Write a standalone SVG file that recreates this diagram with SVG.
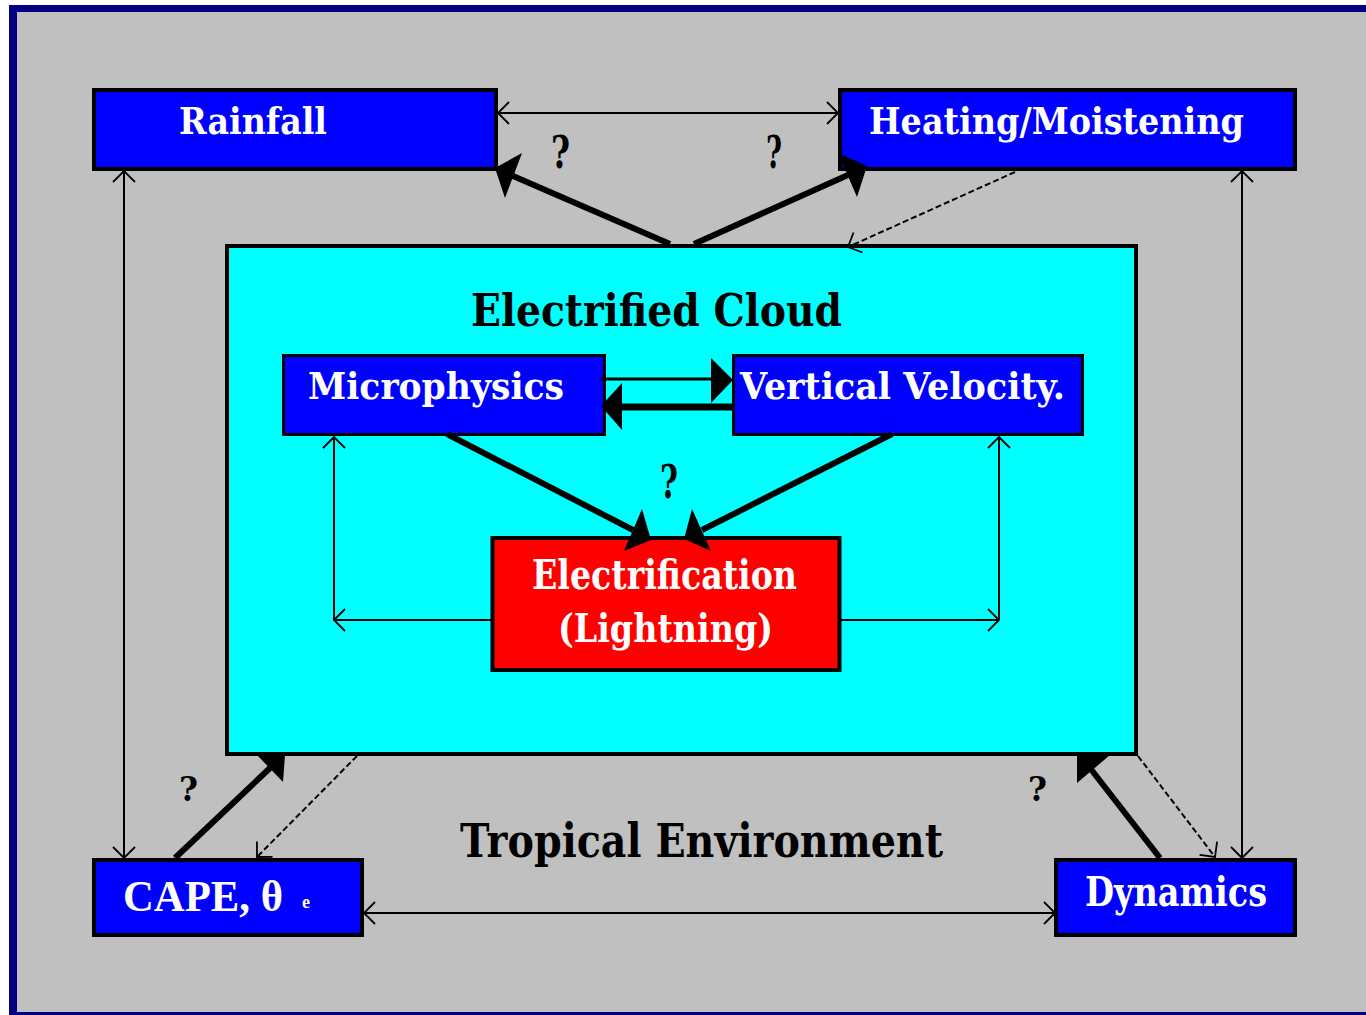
<svg xmlns="http://www.w3.org/2000/svg" width="1366" height="1015" viewBox="0 0 1366 1015">
<style>
.box{stroke:#000;stroke-width:4}
.blue{fill:#0000FF}
.wt{fill:#fff;font-family:"DejaVu Serif","Liberation Serif",serif;font-weight:bold}
.bt{fill:#000;font-family:"DejaVu Serif","Liberation Serif",serif;font-weight:bold}
.thin{stroke:#000;stroke-width:2;fill:none}
.dot{stroke:#000;stroke-width:2;fill:none;stroke-dasharray:6 3}
.thick{stroke:#000;stroke-width:6;fill:none}
.head{fill:#000}
</style>
<defs>
<marker id="v" markerUnits="userSpaceOnUse" viewBox="-14 -14 16 28" refX="0" refY="0" markerWidth="16" markerHeight="28" orient="auto-start-reverse" overflow="visible">
<path d="M-11,-11 L0,0 L-11,11" fill="none" stroke="#000" stroke-width="1.8"/>
</marker>
</defs>
<rect x="9" y="5" width="1357" height="1010" fill="#000080"/>
<rect x="17" y="12" width="1349" height="1000" fill="#C0C0C0"/>

<g id="cloud">
<rect class="box" x="227" y="246" width="909" height="508" fill="#00FFFF"/>
<text class="bt" x="471" y="326" font-size="45" textLength="371" lengthAdjust="spacingAndGlyphs">Electrified Cloud</text>
</g>
<g id="rainfall">
<rect class="box blue" x="94" y="90" width="402" height="79"/>
<text class="wt" x="179" y="134" font-size="37" textLength="148" lengthAdjust="spacingAndGlyphs">Rainfall</text>
</g>
<g id="heating">
<rect class="box blue" x="840" y="90" width="455" height="79"/>
<text class="wt" x="869" y="134" font-size="37" textLength="375" lengthAdjust="spacingAndGlyphs">Heating/Moistening</text>
</g>
<g id="microphysics">
<rect class="blue" x="283.5" y="355.5" width="321" height="79" stroke="#000" stroke-width="3"/>
<text class="wt" x="308" y="399" font-size="37" textLength="256" lengthAdjust="spacingAndGlyphs">Microphysics</text>
</g>
<g id="vertical-velocity">
<rect class="blue" x="733.5" y="355.5" width="349" height="79" stroke="#000" stroke-width="3"/>
<text class="wt" x="740" y="399" font-size="37" textLength="325" lengthAdjust="spacingAndGlyphs">Vertical Velocity.</text>
</g>
<g id="electrification">
<rect class="box" x="492.5" y="538" width="347" height="132" fill="#FF0000"/>
<text class="wt" x="532" y="589" font-size="41" textLength="265" lengthAdjust="spacingAndGlyphs">Electrification</text>
<text class="wt" x="558" y="642" font-size="39" textLength="215" lengthAdjust="spacingAndGlyphs">(Lightning)</text>
</g>
<g id="cape">
<rect class="box blue" x="94" y="860" width="268" height="75"/>
<text class="wt" x="123" y="911" font-size="44" style="font-family:'Liberation Serif',serif"><tspan textLength="160" lengthAdjust="spacingAndGlyphs">CAPE, θ</tspan><tspan x="302" y="908" font-size="18">e</tspan></text>
</g>
<g id="dynamics">
<rect class="box blue" x="1056" y="860" width="239" height="75"/>
<text class="wt" x="1085" y="906" font-size="41" textLength="182" lengthAdjust="spacingAndGlyphs">Dynamics</text>
</g>
<g id="environment">
<text class="bt" x="460" y="857" font-size="46" textLength="483" lengthAdjust="spacingAndGlyphs">Tropical Environment</text>
</g>

<g id="connectors">
<line class="thin" x1="498" y1="113" x2="838" y2="113" marker-start="url(#v)" marker-end="url(#v)"/>
<line class="thin" x1="124" y1="171" x2="124" y2="858" marker-start="url(#v)" marker-end="url(#v)"/>
<line class="thin" x1="1242" y1="171" x2="1242" y2="858" marker-start="url(#v)" marker-end="url(#v)"/>
<line class="thin" x1="364" y1="913" x2="1055" y2="913" marker-start="url(#v)" marker-end="url(#v)"/>

<line class="thick" x1="670" y1="244" x2="513" y2="176"/>
<polygon class="head" points="495,168 522,153 505,198"/>
<line class="thick" x1="694" y1="244" x2="848" y2="175"/>
<polygon class="head" points="867,166 838,153 857,197"/>
<line class="dot" x1="1015" y1="172" x2="848" y2="247" marker-end="url(#v)"/>

<line x1="600" y1="379" x2="712" y2="379" stroke="#000" stroke-width="3"/>
<polygon class="head" points="711,358 711,403 733,380"/>
<line x1="620" y1="407" x2="733" y2="407" stroke="#000" stroke-width="7"/>
<polygon class="head" points="622,383 622,430 601,406"/>

<line class="thick" x1="447" y1="434" x2="633" y2="530"/>
<polygon class="head" points="651,540 642,509 624,551"/>
<line class="thick" x1="892" y1="434" x2="702" y2="530"/>
<polygon class="head" points="684,539 692,509 711,551"/>

<line class="thin" x1="491" y1="620" x2="334" y2="620" marker-end="url(#v)"/>
<line class="thin" x1="334" y1="620" x2="334" y2="437" marker-end="url(#v)"/>
<line class="thin" x1="840" y1="620" x2="999" y2="620" marker-end="url(#v)"/>
<line class="thin" x1="999" y1="620" x2="999" y2="437" marker-end="url(#v)"/>

<line class="thick" x1="175" y1="858" x2="270" y2="768"/>
<polygon class="head" points="257,755 285,755 283,782"/>
<line class="dot" x1="357" y1="756" x2="257" y2="857" marker-end="url(#v)"/>
<line class="thick" x1="1160" y1="858" x2="1090" y2="768"/>
<polygon class="head" points="1077,755 1110,755 1077,783"/>
<line class="dot" x1="1138" y1="756" x2="1215" y2="857" marker-end="url(#v)"/>
</g>

<g id="questions">
<text class="bt" x="551" y="168" font-size="44" textLength="19" lengthAdjust="spacingAndGlyphs">?</text>
<text class="bt" x="766" y="168" font-size="44" textLength="16" lengthAdjust="spacingAndGlyphs">?</text>
<text class="bt" x="660" y="498" font-size="46" textLength="18" lengthAdjust="spacingAndGlyphs">?</text>
<text class="bt" x="179" y="801" font-size="34" textLength="19" lengthAdjust="spacingAndGlyphs">?</text>
<text class="bt" x="1028" y="801" font-size="34" textLength="19" lengthAdjust="spacingAndGlyphs">?</text>
</g>
</svg>
